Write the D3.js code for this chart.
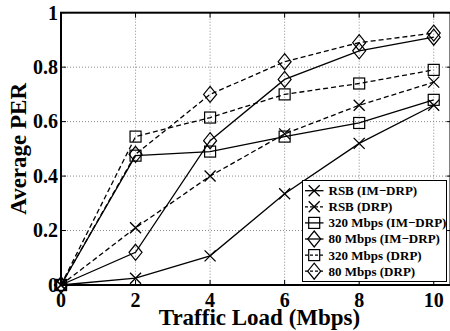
<!DOCTYPE html>
<html>
<head>
<meta charset="utf-8">
<script src="https://cdn.jsdelivr.net/npm/d3@7"></script>
<style>
  html, body { margin: 0; padding: 0; background: #fff; }
  svg { display: block; }
  text { font-family: "Liberation Serif", "Times New Roman", serif; font-weight: bold; fill: #000; }
</style>
</head>
<body>
<svg id="chart" width="450" height="331"></svg>
<script>
// Traffic load (Mbps) on the x axis
const loads = [0, 2, 4, 6, 8, 10];

// Average PER per scheme
const rsbImDrp   = [0, 0.025, 0.107, 0.335, 0.52, 0.66];
const rsbDrp     = [0, 0.21, 0.40, 0.555, 0.66, 0.745];
const m320ImDrp  = [0, 0.475, 0.49, 0.545, 0.595, 0.68];
const m80ImDrp   = [0, 0.12, 0.53, 0.755, 0.86, 0.91];
const m320Drp    = [0, 0.545, 0.615, 0.70, 0.74, 0.79];
const m80Drp     = [0, 0.48, 0.70, 0.82, 0.89, 0.925];

const seriesNames = ["RSB (IM\u2212DRP)", "RSB (DRP)", "320 Mbps (IM\u2212DRP)",
                     "80 Mbps (IM\u2212DRP)", "320 Mbps (DRP)", "80 Mbps (DRP)"];
const seriesValues = [rsbImDrp, rsbDrp, m320ImDrp, m80ImDrp, m320Drp, m80Drp];
const seriesMarkers = ["x", "x", "square", "diamond", "square", "diamond"];
const seriesDashed = [false, true, false, false, true, true];

const xTicks = [0, 2, 4, 6, 8, 10];
const yTicks = [0, 0.2, 0.4, 0.6, 0.8, 1];
const yTickLabels = ["0", "0.2", "0.4", "0.6", "0.8", "1"];

const svg = d3.select("#chart");
const plotLeft = 61, plotRight = 450.5, plotTop = 12.7, plotBottom = 285;

const x = d3.scaleLinear().domain([0, 10.45]).range([plotLeft, plotRight]);
const y = d3.scaleLinear().domain([0, 1]).range([plotBottom, plotTop]);

// dotted grid
const grid = svg.append("g");
grid.selectAll("line.gx").data(xTicks.slice(1)).join("line")
  .attr("x1", d => x(d)).attr("x2", d => x(d))
  .attr("y1", plotTop).attr("y2", plotBottom)
  .attr("stroke", "#8a8a8a").attr("stroke-width", 1).attr("stroke-dasharray", "1,2");
grid.selectAll("line.gy").data(yTicks.slice(1, -1)).join("line")
  .attr("x1", plotLeft).attr("x2", plotRight)
  .attr("y1", d => y(d)).attr("y2", d => y(d))
  .attr("stroke", "#8a8a8a").attr("stroke-width", 1).attr("stroke-dasharray", "1,2");

// marker drawing
function drawMarker(g, kind, cx, cy) {
  if (kind === "square") {
    g.append("rect").attr("x", cx - 5.5).attr("y", cy - 5.5)
      .attr("width", 11).attr("height", 11)
      .attr("fill", "none").attr("stroke", "#000").attr("stroke-width", 1.2);
  } else if (kind === "diamond") {
    g.append("path")
      .attr("d", `M${cx},${cy - 8}L${cx + 6.5},${cy}L${cx},${cy + 8}L${cx - 6.5},${cy}Z`)
      .attr("fill", "none").attr("stroke", "#000").attr("stroke-width", 1.2);
  } else {
    const r = 5.5;
    g.append("path")
      .attr("d", `M${cx - r},${cy - r}L${cx + r},${cy + r}M${cx - r},${cy + r}L${cx + r},${cy - r}`)
      .attr("fill", "none").attr("stroke", "#000").attr("stroke-width", 1.3);
  }
}

const line = d3.line().x((d, i) => x(loads[i])).y(d => y(d));
const plot = svg.append("g");
seriesValues.forEach((vals, k) => {
  plot.append("path").datum(vals).attr("d", line)
    .attr("fill", "none").attr("stroke", "#000").attr("stroke-width", 1.3)
    .attr("stroke-dasharray", seriesDashed[k] ? "5,3" : null);
});
seriesValues.forEach((vals, k) => {
  const g = plot.append("g");
  vals.forEach((v, i) => drawMarker(g, seriesMarkers[k], x(loads[i]), y(v)));
});

// axes frame with inward ticks
const frame = svg.append("g");
frame.append("rect").attr("x", plotLeft).attr("y", plotTop)
  .attr("width", plotRight - plotLeft).attr("height", plotBottom - plotTop)
  .attr("fill", "none").attr("stroke", "#000").attr("stroke-width", 2);
const tl = 5;
xTicks.forEach(t => {
  frame.append("line").attr("x1", x(t)).attr("x2", x(t)).attr("y1", plotBottom).attr("y2", plotBottom - tl)
    .attr("stroke", "#000").attr("stroke-width", 1);
  frame.append("line").attr("x1", x(t)).attr("x2", x(t)).attr("y1", plotTop).attr("y2", plotTop + tl)
    .attr("stroke", "#000").attr("stroke-width", 1);
});
yTicks.forEach(t => {
  frame.append("line").attr("x1", plotLeft).attr("x2", plotLeft + tl).attr("y1", y(t)).attr("y2", y(t))
    .attr("stroke", "#000").attr("stroke-width", 1);
  frame.append("line").attr("x1", plotRight - 4).attr("x2", plotRight).attr("y1", y(t)).attr("y2", y(t))
    .attr("stroke", "#000").attr("stroke-width", 1);
});

// tick labels
svg.append("g").selectAll("text").data(xTicks).join("text")
  .attr("x", d => x(d)).attr("y", plotBottom + 22)
  .attr("text-anchor", "middle").attr("font-size", 20)
  .text(d => d);
svg.append("g").selectAll("text").data(yTicks).join("text")
  .attr("x", plotLeft - 3).attr("y", d => y(d)).attr("dy", "0.34em")
  .attr("text-anchor", "end").attr("font-size", 20)
  .text((d, i) => yTickLabels[i]);

// axis titles
svg.append("text").attr("x", 259.5).attr("y", 325)
  .attr("text-anchor", "middle").attr("font-size", 23)
  .text("Traffic Load (Mbps)");
svg.append("text").attr("transform", `translate(26,${(plotTop + plotBottom) / 2}) rotate(-90)`)
  .attr("text-anchor", "middle").attr("font-size", 23)
  .text("Average PER");

// legend
const lg = svg.append("g");
lg.append("rect").attr("x", 302.5).attr("y", 180.5).attr("width", 144).attr("height", 101)
  .attr("fill", "#fff").attr("stroke", "#000").attr("stroke-width", 1);
seriesNames.forEach((name, k) => {
  const cy = 190.7 + k * 16.1;
  lg.append("line").attr("x1", 305).attr("x2", 323.5).attr("y1", cy).attr("y2", cy)
    .attr("stroke", "#000").attr("stroke-width", 1.3)
    .attr("stroke-dasharray", seriesDashed[k] ? "3,2" : null);
  drawMarker(lg, seriesMarkers[k], 314.2, cy);
  lg.append("text").attr("x", 328.5).attr("y", cy).attr("dy", "0.34em")
    .attr("font-size", 13).text(name);
});
</script>
</body>
</html>
